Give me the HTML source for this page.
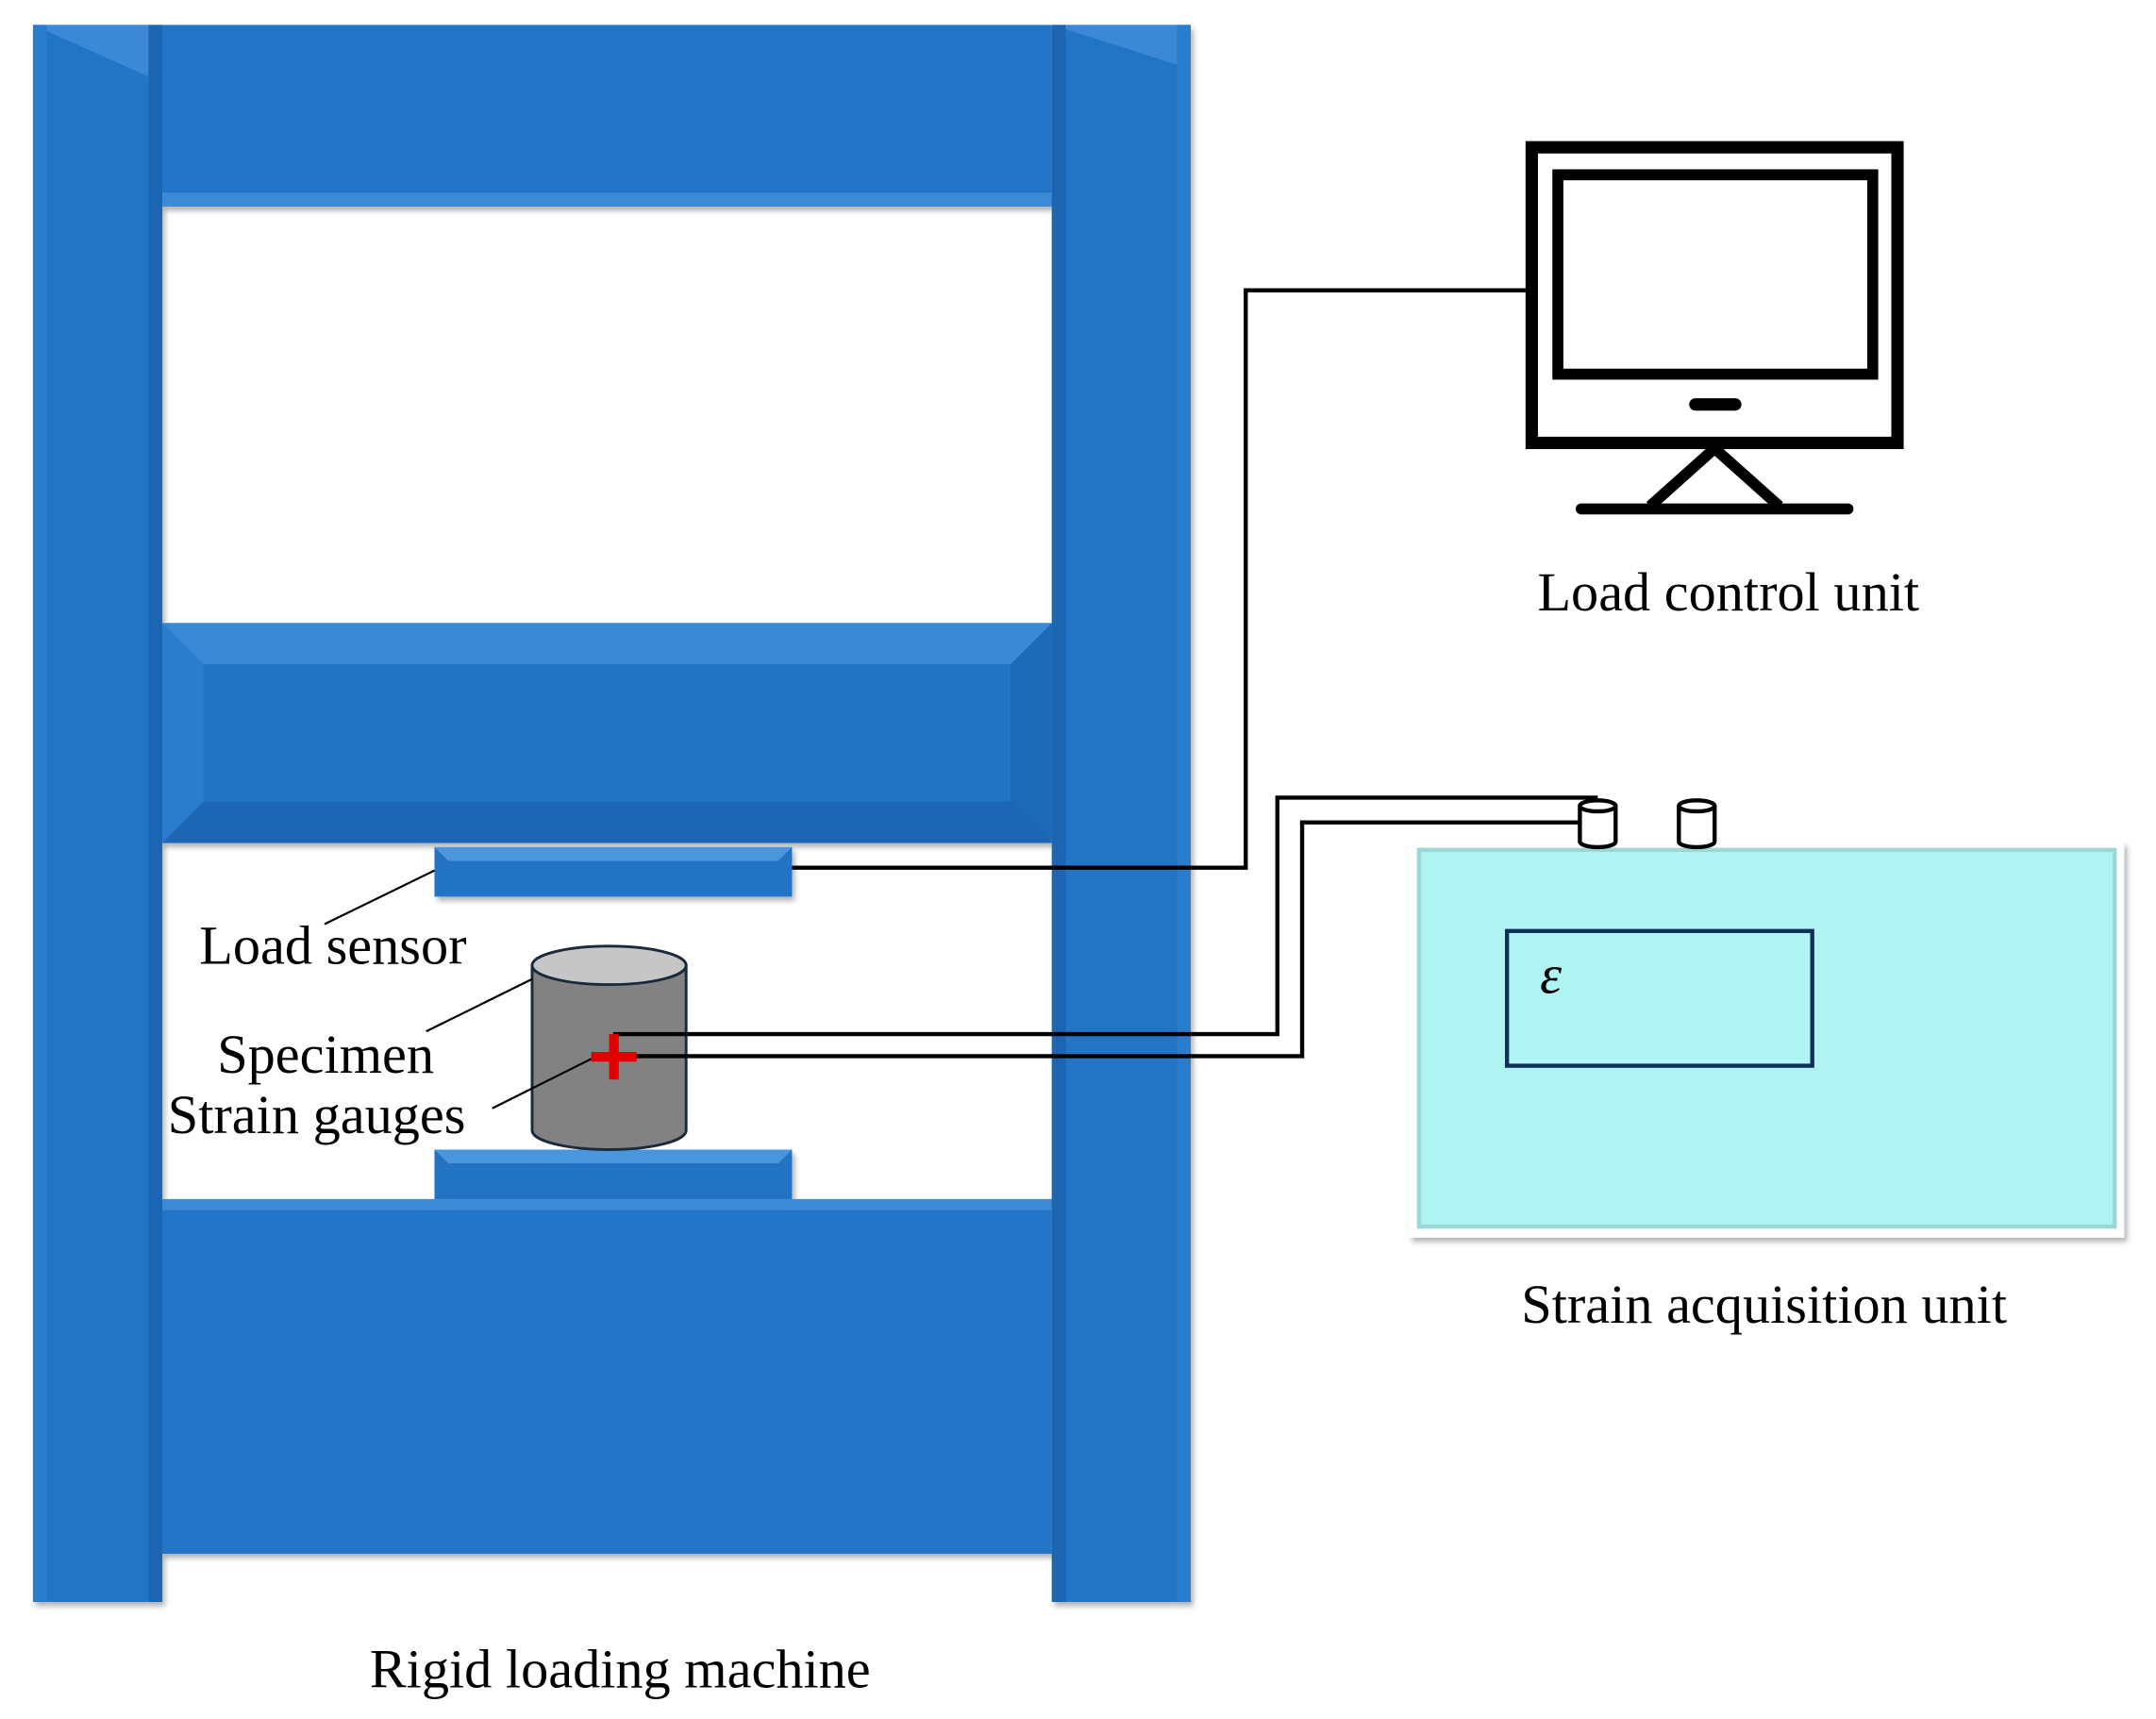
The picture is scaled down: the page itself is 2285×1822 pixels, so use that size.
<!DOCTYPE html>
<html><head><meta charset="utf-8"><style>
html,body{margin:0;padding:0;background:#fff;}
svg{display:block;}
text{font-family:"Liberation Serif",serif;font-size:40px;fill:#000;}
</style></head><body>
<svg width="2285" height="1822" viewBox="0 0 1568 1250" xmlns="http://www.w3.org/2000/svg">
<defs>
<filter id="sh" x="-5%" y="-5%" width="110%" height="110%"><feDropShadow dx="2" dy="3" stdDeviation="2" flood-color="#000" flood-opacity="0.3"/></filter>
</defs>
<g filter="url(#sh)">
<rect x="118" y="18" width="647" height="132" fill="#2475c6"/>
<rect x="118" y="140" width="647" height="10" fill="#3d8ad6"/>
<rect x="118" y="453" width="647" height="160" fill="#2373c4"/>
<polygon points="118,453 765,453 735,483 148,483" fill="#3b88d6"/>
<polygon points="118,613 765,613 735,583 148,583" fill="#1e66b3"/>
<polygon points="118,453 148,483 148,583 118,613" fill="#2a7ccc"/>
<polygon points="765,453 735,483 735,583 765,613" fill="#1f6ab8"/>
<rect x="118" y="872" width="647" height="258" fill="#2475c6"/>
<rect x="118" y="872" width="647" height="8" fill="#3d8ad6"/>
<rect x="24" y="18" width="94" height="1147" fill="#2474c5"/>
<polygon points="24,18 118,18 118,60" fill="#3a88d6"/>
<rect x="24" y="18" width="10" height="1147" fill="#2b7ccc"/>
<rect x="108" y="18" width="10" height="1147" fill="#1d65b2"/>
<rect x="765" y="18" width="101" height="1147" fill="#2474c5"/>
<polygon points="765,18 866,18 866,50" fill="#3a88d6"/>
<rect x="765" y="18" width="10" height="1147" fill="#1d65b2"/>
<rect x="856" y="18" width="10" height="1147" fill="#2b7ccc"/>
<rect x="316" y="616" width="260" height="36" fill="#2373c4"/>
<polygon points="316,616 576,616 566,626 326,626" fill="#4b95dd"/>
<rect x="316" y="836" width="260" height="36" fill="#2373c4"/>
<polygon points="316,836 576,836 566,846 326,846" fill="#4b95dd"/>
</g>
<path d="M387,702 L387,822 A56,14 0 0 0 499,822 L499,702 Z" fill="#828282" stroke="#1b2a3a" stroke-width="2"/>
<ellipse cx="443" cy="702" rx="56" ry="14" fill="#c6c6c6" stroke="#1b2a3a" stroke-width="2"/>
<g stroke="#000" stroke-width="1.5" fill="none">
<line x1="236" y1="672" x2="316" y2="633"/>
<line x1="310" y1="750" x2="387" y2="712"/>
<line x1="358" y1="806" x2="430" y2="770"/>
</g>
<g stroke="#000" stroke-width="3" fill="none">
<polyline points="576,631 906,631 906,211 1112,211"/>
<polyline points="446,752 929,752 929,580 1162,580"/>
<polyline points="446,768 947,768 947,598 1148,598"/>
</g>
<rect x="430" y="765" width="33" height="7" fill="#e00000"/>
<rect x="443" y="752" width="7" height="33" fill="#e00000"/>
<rect x="1025" y="612" width="520" height="288" fill="#fff" filter="url(#sh)"/>
<rect x="1032" y="618" width="506" height="274" fill="#aff3f3" stroke="#9ed6d6" stroke-width="3"/>
<rect x="1096" y="677" width="222" height="98" fill="none" stroke="#10305a" stroke-width="3"/>
<text x="1120" y="722" font-style="italic" font-size="36">ε</text>
<g stroke="#000" stroke-width="3" fill="#fff">
<path d="M1149,586 L1149,612 A13,4 0 0 0 1175,612 L1175,586"/>
<ellipse cx="1162" cy="586" rx="13" ry="4"/>
<path d="M1221,586 L1221,612 A13,4 0 0 0 1247,612 L1247,586"/>
<ellipse cx="1234" cy="586" rx="13" ry="4"/>
</g>
<rect x="1114" y="107" width="266" height="215" fill="none" stroke="#000" stroke-width="9"/>
<rect x="1133" y="127" width="229" height="145" fill="none" stroke="#000" stroke-width="8"/>
<line x1="1233" y1="294" x2="1262" y2="294" stroke="#000" stroke-width="9" stroke-linecap="round"/>
<polyline points="1200,368 1247,326 1294,368" fill="none" stroke="#000" stroke-width="8"/>
<line x1="1150" y1="370" x2="1344" y2="370" stroke="#000" stroke-width="8" stroke-linecap="round"/>
<text x="1257" y="444" text-anchor="middle">Load control unit</text>
<text x="1283" y="962" text-anchor="middle">Strain acquisition unit</text>
<text x="451" y="1227" text-anchor="middle">Rigid loading machine</text>
<text x="145" y="701">Load sensor</text>
<text x="158" y="780">Specimen</text>
<text x="122" y="824">Strain gauges</text>
</svg>
</body></html>
